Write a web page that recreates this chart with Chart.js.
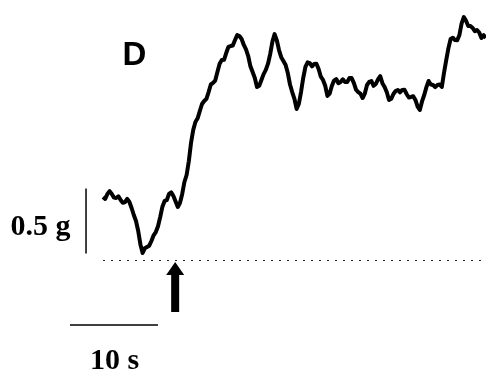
<!DOCTYPE html>
<html>
<head>
<meta charset="utf-8">
<script src="https://cdn.jsdelivr.net/npm/chart.js@4.4.1/dist/chart.umd.min.js"></script>
<style>
  html, body { margin: 0; padding: 0; background: #fff; }
  canvas { display: block; }
</style>
</head>
<body>
<canvas id="trace" width="486" height="374"></canvas>
<script>
// time (s) after start of recording, one reading every 0.25 s
const times = [];
for (let i = 0; i < 175; i++) times.push(i * 0.25);

// tension (g) above the dotted baseline
const tension = [
  0.485, 0.47, 0.508, 0.53, 0.508, 0.48, 0.477, 0.49, 0.462, 0.44,
  0.446, 0.47, 0.446, 0.40, 0.346, 0.30, 0.223, 0.12, 0.054, 0.09,
  0.100, 0.11, 0.146, 0.19, 0.215, 0.26, 0.331, 0.41, 0.454, 0.46,
  0.508, 0.52, 0.492, 0.45, 0.408, 0.44, 0.508, 0.60, 0.654, 0.76,
  0.900, 1.00, 1.062, 1.09, 1.146, 1.20, 1.223, 1.24, 1.292, 1.35,
  1.362, 1.38, 1.446, 1.51, 1.538, 1.54, 1.592, 1.64, 1.646, 1.65,
  1.692, 1.73, 1.723, 1.70, 1.654, 1.62, 1.569, 1.49, 1.446, 1.40,
  1.331, 1.34, 1.385, 1.43, 1.462, 1.51, 1.585, 1.68, 1.738, 1.69,
  1.615, 1.56, 1.531, 1.50, 1.438, 1.35, 1.292, 1.24, 1.162, 1.20,
  1.292, 1.40, 1.485, 1.52, 1.515, 1.49, 1.508, 1.51, 1.469, 1.41,
  1.385, 1.34, 1.262, 1.28, 1.338, 1.38, 1.392, 1.36, 1.369, 1.39,
  1.369, 1.37, 1.400, 1.40, 1.362, 1.31, 1.292, 1.28, 1.246, 1.28,
  1.346, 1.37, 1.377, 1.34, 1.354, 1.39, 1.415, 1.36, 1.331, 1.29,
  1.231, 1.24, 1.277, 1.30, 1.308, 1.29, 1.308, 1.31, 1.277, 1.25,
  1.254, 1.26, 1.231, 1.18, 1.154, 1.22, 1.269, 1.33, 1.377, 1.35,
  1.346, 1.33, 1.346, 1.35, 1.331, 1.44, 1.538, 1.63, 1.700, 1.71,
  1.692, 1.69, 1.731, 1.82, 1.869, 1.84, 1.800, 1.80, 1.785, 1.76,
  1.769, 1.75, 1.708, 1.73, 1.708
];

const panelLabel = 'D';
const forceBar = { label: '0.5 g', value: 0.5 };
const timeBar = { label: '10 s', value: 10 };
const stimulusTime = 8.2; // arrow

// scale bars, baseline, arrow and labels
const annotations = {
  id: 'annotations',
  afterDatasetsDraw(chart) {
    const { ctx, scales: { x, y } } = chart;
    ctx.save();

    // dotted baseline at 0 g
    ctx.strokeStyle = '#222';
    ctx.lineWidth = 1;
    ctx.setLineDash([2, 6]);
    ctx.beginPath();
    ctx.moveTo(x.getPixelForValue(0), y.getPixelForValue(0) + 0.5);
    ctx.lineTo(x.getPixelForValue(43), y.getPixelForValue(0) + 0.5);
    ctx.stroke();
    ctx.setLineDash([]);

    // vertical force bar
    ctx.strokeStyle = '#000';
    ctx.lineWidth = 1.5;
    const bx = x.getPixelForValue(-1.93);
    ctx.beginPath();
    ctx.moveTo(bx, y.getPixelForValue(0.05));
    ctx.lineTo(bx, y.getPixelForValue(0.05 + forceBar.value));
    ctx.stroke();

    // horizontal time bar
    const ty = y.getPixelForValue(-0.5);
    ctx.beginPath();
    ctx.moveTo(x.getPixelForValue(-3.75), ty);
    ctx.lineTo(x.getPixelForValue(-3.75 + timeBar.value), ty);
    ctx.stroke();

    // arrow
    const ax = x.getPixelForValue(stimulusTime);
    const tip = y.getPixelForValue(0) + 2;
    ctx.fillStyle = '#000';
    ctx.beginPath();
    ctx.moveTo(ax, tip);
    ctx.lineTo(ax + 9, tip + 13);
    ctx.lineTo(ax + 4, tip + 13);
    ctx.lineTo(ax + 4, tip + 50);
    ctx.lineTo(ax - 4, tip + 50);
    ctx.lineTo(ax - 4, tip + 13);
    ctx.lineTo(ax - 9, tip + 13);
    ctx.closePath();
    ctx.fill();

    // texts
    ctx.textAlign = 'center';
    ctx.textBaseline = 'alphabetic';
    ctx.font = 'bold 33px "Liberation Sans", Arial, sans-serif';
    ctx.fillText(panelLabel, 134.5, 65);
    ctx.font = 'bold 30px "Liberation Serif", "Times New Roman", serif';
    ctx.fillText(forceBar.label, 40.5, 235);
    ctx.fillText(timeBar.label, 114.5, 369);

    ctx.restore();
  }
};

new Chart(document.getElementById('trace'), {
  type: 'line',
  data: {
    datasets: [{
      data: times.map((t, i) => ({ x: t, y: tension[i] })),
      borderColor: '#000',
      borderWidth: 4,
      pointRadius: 0,
      tension: 0,
      borderJoinStyle: 'round',
      fill: false
    }]
  },
  options: {
    responsive: false,
    animation: false,
    devicePixelRatio: 1,
    layout: { padding: 0 },
    plugins: { legend: { display: false }, tooltip: { enabled: false } },
    scales: {
      x: { type: 'linear', display: false, min: -11.705, max: 43.52 },
      y: { type: 'linear', display: false, min: -0.877, max: 2.0 }
    }
  },
  plugins: [annotations]
});
</script>
</body>
</html>
